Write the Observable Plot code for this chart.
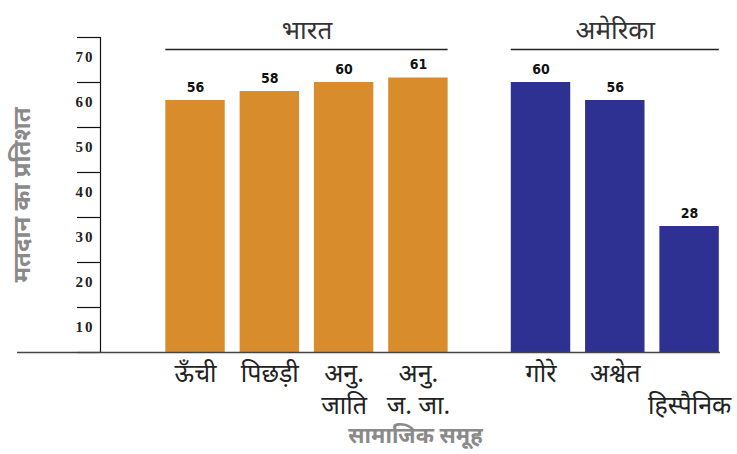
<!DOCTYPE html>
<html>
<head>
<meta charset="utf-8">
<script src="https://cdn.jsdelivr.net/npm/d3@7"></script>
<script src="https://cdn.jsdelivr.net/npm/@observablehq/plot@0.6"></script>
<style>
  body { margin: 0; background: #fff; }
  #chart svg { display: block; }
  g[aria-label="y-axis tick label"] text { letter-spacing: 2px; }
</style>
</head>
<body>
<div id="chart"></div>
<script>
// ---- data ----
const categories = ["ऊँची", "पिछड़ी", "अनु.\nजाति", "अनु.\nज. जा.", "गोरे", "अश्वेत", "\nहिस्पैनिक"];
const groups = ["भारत", "भारत", "भारत", "भारत", "अमेरिका", "अमेरिका", "अमेरिका"];
const values = [56, 58, 60, 61, 60, 56, 28];
const groupNames = ["भारत", "अमेरिका"];
const groupColors = ["#D98C2B", "#2E3192"];
const yTicks = [0, 10, 20, 30, 40, 50, 60, 70];
const yLabelTicks = [10, 20, 30, 40, 50, 60, 70];
const yTitle = "मतदान का प्रतिशत";
const xTitle = "सामाजिक समूह";

// ---- layout ----
const GROUP_GAP = 0.65;
const HALF = 0.4;
const XDOMAIN = [-1.279, 7.066];
const DEV = "'Noto Sans Devanagari', 'Noto Sans', 'Lohit Devanagari', 'FreeSans', sans-serif";

const data = categories.map((c, i) => ({
  label: c,
  group: groups[i],
  value: values[i],
  pos: i + (groups[i] === groupNames[1] ? GROUP_GAP : 0)
}));

const groupData = groupNames.map((g, k) => {
  const ps = data.filter(d => d.group === g).map(d => d.pos);
  return { name: g, x1: d3.min(ps) - HALF, x2: d3.max(ps) + HALF };
});

const color = g => groupColors[groupNames.indexOf(g)];

const chart = Plot.plot({
  width: 737,
  height: 454,
  marginLeft: 100,
  marginRight: 17,
  marginTop: 37,
  marginBottom: 102,
  x: { domain: XDOMAIN, axis: null },
  y: { domain: [0, 70], axis: null },
  marks: [
    Plot.rectY(data, {
      x1: d => d.pos - HALF, x2: d => d.pos + HALF, y1: 0, y2: "value",
      fill: d => color(d.group)
    }),
    Plot.text(data, {
      x: "pos", y: "value", text: d => String(d.value), dy: -13,
      fontSize: 14, fontWeight: "bold", fill: "#111",
      fontFamily: "'Liberation Sans Narrow', 'DejaVu Sans Condensed', sans-serif"
    }),
    // y axis line
    Plot.ruleX([XDOMAIN[0]], { y1: 0, y2: 70, stroke: "#111", strokeWidth: 1.2 }),
    // y ticks
    Plot.axisY({ ticks: yTicks, tickSize: 23, tickFormat: () => "", label: null, stroke: "#111", strokeWidth: 1.2 }),
    // y tick labels (between tick lines)
    Plot.axisY({
      ticks: yLabelTicks, tickSize: 0, tickPadding: 6, dy: 20, label: null,
      fontSize: 15, fontWeight: "bold", fill: "#222",
      fontFamily: "'Liberation Serif', 'DejaVu Serif', serif"
    }),
    // baseline
    Plot.ruleY([0], { insetLeft: -83, stroke: "#444", strokeWidth: 1.5 }),
    // group brackets
    Plot.ruleY(groupData, { y: () => 70, x1: "x1", x2: "x2", dy: 12, stroke: "#222", strokeWidth: 1.3 }),
    Plot.text(groupData, {
      x: d => (d.x1 + d.x2) / 2, y: () => 70, text: "name", dy: -7,
      fontSize: 26, fill: "#333", fontFamily: DEV
    }),
    // x tick labels
    Plot.text(data, {
      x: "pos", text: "label", frameAnchor: "bottom", lineAnchor: "top", dy: 7,
      fontSize: 25, lineHeight: 1.28, fill: "#222", fontFamily: DEV
    }),
    // axis titles
    Plot.text([yTitle], {
      frameAnchor: "left", rotate: -90, dx: -78, textAnchor: "middle", text: d => d,
      fontSize: 24, fontWeight: "bold", fill: "#8a8a8a", fontFamily: DEV
    }),
    Plot.text([xTitle], {
      frameAnchor: "bottom", dy: 90, dx: 5, text: d => d,
      fontSize: 22, fontWeight: "bold", fill: "#8a8a8a", fontFamily: DEV
    })
  ]
});
document.getElementById("chart").appendChild(chart);
</script>
</body>
</html>
